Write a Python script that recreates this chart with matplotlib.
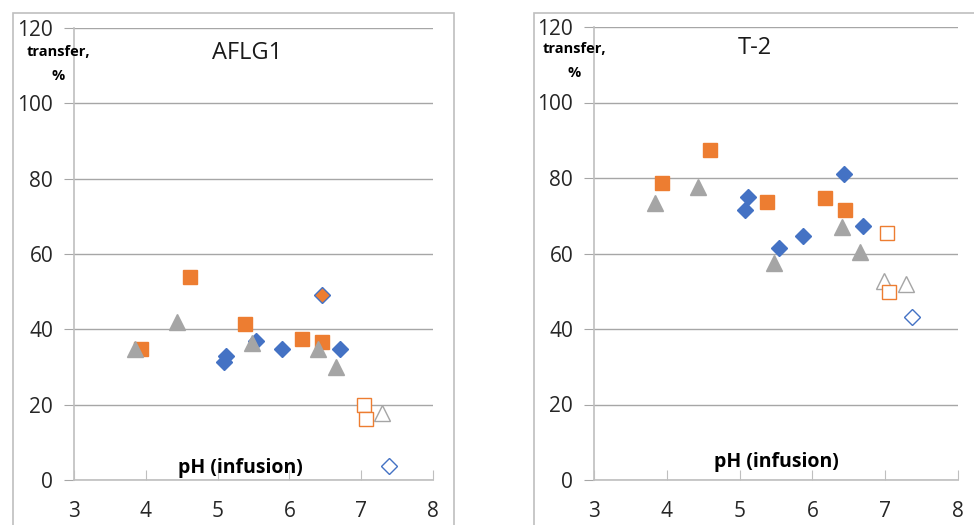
import matplotlib.pyplot as plt
from matplotlib.patches import Rectangle

# AFLG1 panel
a_tri_ph = [3.85, 4.43, 5.48, 6.40, 6.65]
a_tri_val = [34.7, 42.0, 36.5, 34.7, 30.0]
a_sq_ph = [3.94, 4.61, 5.38, 6.17, 6.46]
a_sq_val = [34.7, 54.0, 41.4, 37.4, 36.7]
a_dia_ph = [5.12, 5.09, 5.54, 5.89, 6.70]
a_dia_val = [32.9, 31.2, 37.0, 34.7, 34.7]
a_mix_ph = [6.45]
a_mix_val = [49.0]
a_osq_ph = [7.04, 7.06]
a_osq_val = [19.9, 16.1]
a_otri_ph = [7.29]
a_otri_val = [17.9]
a_odia_ph = [7.39]
a_odia_val = [3.7]

# T-2 panel
t_tri_ph = [3.84, 4.43, 5.47, 6.40, 6.65]
t_tri_val = [73.3, 77.7, 57.4, 67.1, 60.3]
t_sq_ph = [3.93, 4.60, 5.38, 6.17, 6.45]
t_sq_val = [78.8, 87.5, 73.7, 74.7, 71.4]
t_dia_ph = [5.12, 5.08, 5.54, 5.87, 6.44, 6.69]
t_dia_val = [74.9, 71.4, 61.5, 64.7, 81.0, 67.4]
t_osq_ph = [7.03, 7.05]
t_osq_val = [65.4, 49.9]
t_otri_ph = [6.98, 7.29]
t_otri_val = [52.7, 51.9]
t_odia_ph = [7.37]
t_odia_val = [43.1]

yticks = [0, 20, 40, 60, 80, 100, 120]
xticks = [3, 4, 5, 6, 7, 8]

blue = "#4472C4"
orange = "#ED7D31"
gray = "#A5A5A5"
axis_col = "#BFBFBF"

plt.rcParams["font.family"] = ["Open Sans", "DejaVu Sans"]

fig = plt.figure(figsize=(9.74, 5.25), dpi=100)
W, H = 974, 525

# outer chart frames
fig.patches.append(Rectangle((13 / W, -0.1), (454 - 13) / W, 1 - 13 / H + 0.1,
                             transform=fig.transFigure, fill=False,
                             edgecolor="#BFBFBF", lw=1.2))
fig.patches.append(Rectangle((534 / W, -0.1), 0.5, 1 - 13 / H + 0.1,
                             transform=fig.transFigure, fill=False,
                             edgecolor="#BFBFBF", lw=1.2))


def make_axes(left, right, top, bottom):
    return fig.add_axes([left / W, 1 - bottom / H, (right - left) / W, (bottom - top) / H])


def style(ax):
    ax.set_xlim(3, 8)
    ax.set_ylim(0, 120)
    ax.set_xticks(xticks)
    ax.set_yticks(yticks)
    ax.grid(axis="y", color="#A6A6A6", lw=1)
    ax.set_axisbelow(True)
    for s in ["top", "right"]:
        ax.spines[s].set_visible(False)
    for s in ["left", "bottom"]:
        ax.spines[s].set_color(axis_col)
        ax.spines[s].set_linewidth(1.2)
    ax.tick_params(axis="x", direction="in", length=7, color=axis_col, labelsize=15, pad=15)
    ax.tick_params(axis="y", direction="out", length=7, color="#A6A6A6", labelsize=15, pad=8)
    for lab in ax.get_xticklabels() + ax.get_yticklabels():
        lab.set_color("#262626")


def filled(ax, x, y, m, c, ms):
    ax.plot(x, y, ls="none", marker=m, ms=ms, mfc=c, mec=c, mew=1, clip_on=False)


def hollow(ax, x, y, m, c, ms):
    ax.plot(x, y, ls="none", marker=m, ms=ms, mfc="white", mec=c, mew=1, clip_on=False)


# left: AFLG1
ax1 = make_axes(74, 433, 28, 480)
style(ax1)
filled(ax1, a_sq_ph, a_sq_val, "s", orange, 9.5)
filled(ax1, a_dia_ph, a_dia_val, "D", blue, 8.5)
filled(ax1, a_tri_ph, a_tri_val, "^", gray, 11)
ax1.plot(a_mix_ph, a_mix_val, ls="none", marker="D", ms=8.5, mfc=orange, mec=blue, mew=1)
hollow(ax1, a_osq_ph, a_osq_val, "s", orange, 9.5)
hollow(ax1, a_otri_ph, a_otri_val, "^", gray, 11)
hollow(ax1, a_odia_ph, a_odia_val, "D", blue, 8.5)

# right: T-2
ax2 = make_axes(594, 958, 27, 480)
style(ax2)
filled(ax2, t_sq_ph, t_sq_val, "s", orange, 9.5)
filled(ax2, t_dia_ph, t_dia_val, "D", blue, 8.5)
filled(ax2, t_tri_ph, t_tri_val, "^", gray, 11)
hollow(ax2, t_otri_ph, t_otri_val, "^", gray, 11)
hollow(ax2, t_osq_ph, t_osq_val, "s", orange, 9.5)
hollow(ax2, t_odia_ph, t_odia_val, "D", blue, 8.5)

# texts
fig.text(247 / W, 1 - 53 / H, "AFLG1", fontsize=17, ha="center", va="center", color="#1a1a1a")
fig.text(755 / W, 1 - 48 / H, "T-2", fontsize=17, ha="center", va="center", color="#1a1a1a")
for x0, y0 in [(58, 52), (574, 49)]:
    fig.text(x0 / W, 1 - y0 / H, "transfer,", fontsize=10.5, fontweight="bold", ha="center", va="center")
    fig.text(x0 / W, 1 - (y0 + 24) / H, "%", fontsize=10.5, fontweight="bold", ha="center", va="center")
fig.text(240 / W, 1 - 468 / H, "pH (infusion)", fontsize=14, fontweight="bold", ha="center", va="center")
fig.text(776 / W, 1 - 462 / H, "pH (infusion)", fontsize=14, fontweight="bold", ha="center", va="center")

fig.savefig("out.png", dpi=100)
